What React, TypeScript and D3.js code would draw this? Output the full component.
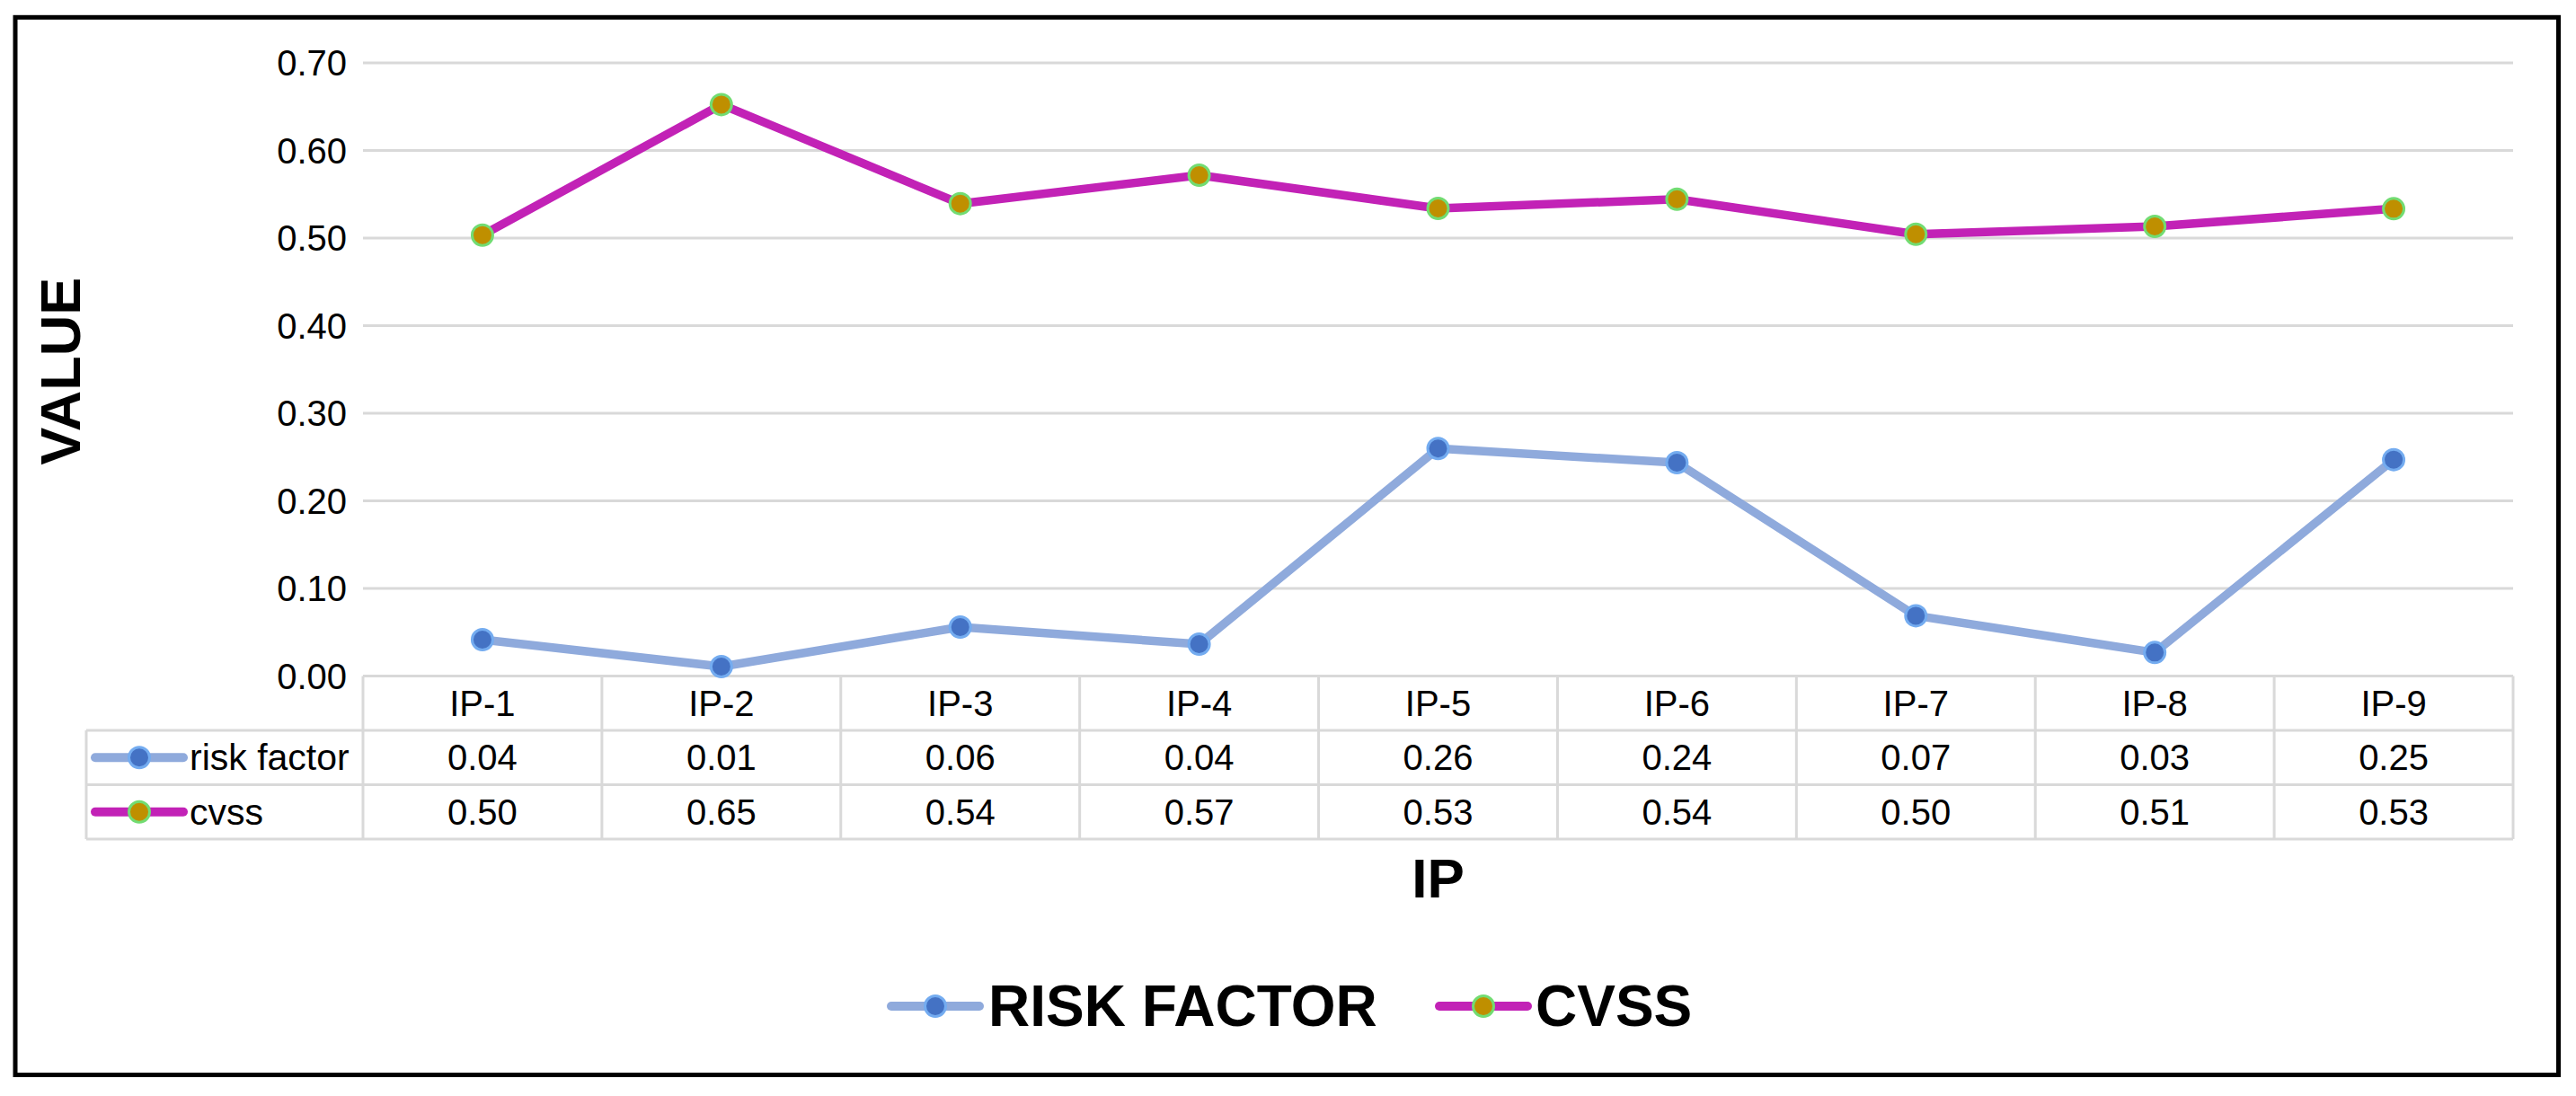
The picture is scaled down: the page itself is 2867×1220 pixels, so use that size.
import React from 'react';
import { scaleBand, scaleLinear, line, format, range } from 'd3';

const categories = ['IP-1', 'IP-2', 'IP-3', 'IP-4', 'IP-5', 'IP-6', 'IP-7', 'IP-8', 'IP-9'];
const riskFactor = [0.0415, 0.0108, 0.0559, 0.0364, 0.2597, 0.2436, 0.0688, 0.0268, 0.247];
const cvss = [0.5034, 0.6524, 0.5393, 0.5718, 0.5338, 0.5444, 0.5044, 0.5133, 0.5335];
const yTicks = [0, 0.1, 0.2, 0.3, 0.4, 0.5, 0.6, 0.7];

const series = [
  { name: 'risk factor', legend: 'RISK FACTOR', values: riskFactor, line: '#8faadc', fill: '#4472c4', ring: '#74acf0' },
  { name: 'cvss', legend: 'CVSS', values: cvss, line: '#c222b6', fill: '#bf8f00', ring: '#72dc72' },
];

const W = 2867;
const H = 1220;
const plot = { left: 404, right: 2797, top: 70, bottom: 752.5 };
const rowH = 60.5;
const tableLeft = 96;
const grid = '#d9d9d9';
const font = '"Liberation Sans", Arial, sans-serif';

function Marker({ cx, cy, s }: { cx: number, cy: number, s: typeof series[0] }) {
  return <circle cx={cx} cy={cy} r={11.5} fill={s.fill} stroke={s.ring} strokeWidth={3} />;
}

function LegendKey({ x, y, s, w }: { x: number, y: number, s: typeof series[0], w: number }) {
  return (
    <g>
      <line x1={x} x2={x + w} y1={y} y2={y} stroke={s.line} strokeWidth={10} strokeLinecap="round" />
      <Marker cx={x + w / 2} cy={y} s={s} />
    </g>
  );
}

export default function App() {
  const x = scaleBand().domain(categories).range([plot.left, plot.right]);
  const y = scaleLinear().domain([0, 0.7]).range([plot.bottom, plot.top]);
  const fmt = format('.2f');
  const cx = (c: string) => x(c)! + x.bandwidth() / 2;
  const path = line<number>().x((_, i) => cx(categories[i])).y(d => y(d));

  const tableBottom = plot.bottom + rowH * 3;

  return (
    <svg width={W} height={H} style={{ position: 'absolute', left: 0, top: 0, background: '#fff' }} fontFamily={font}>
      <rect x={0} y={0} width={W} height={H} fill="#fff" />
      <rect x={17} y={19.3} width={2830.5} height={1177.2} fill="none" stroke="#000" strokeWidth={5} />

      {/* gridlines + tick labels */}
      {yTicks.map(t => (
        <g key={t}>
          <line x1={plot.left} x2={plot.right} y1={y(t)} y2={y(t)} stroke={grid} strokeWidth={3} />
          <text x={386} y={y(t) + 14} textAnchor="end" fontSize={40} fill="#000">{fmt(t)}</text>
        </g>
      ))}

      {/* data table */}
      <g stroke={grid} strokeWidth={3}>
        {range(1, 4).map(r => (
          <line key={r} x1={tableLeft} x2={plot.right} y1={plot.bottom + rowH * r} y2={plot.bottom + rowH * r} />
        ))}
        <line x1={tableLeft} x2={tableLeft} y1={plot.bottom + rowH} y2={tableBottom} />
        {range(0, categories.length + 1).map(i => {
          const xx = plot.left + x.bandwidth() * i;
          return <line key={i} x1={xx} x2={xx} y1={plot.bottom} y2={tableBottom} />;
        })}
      </g>
      {categories.map(c => (
        <text key={c} x={cx(c)} y={plot.bottom + rowH * 0.5 + 14} textAnchor="middle" fontSize={40}>{c}</text>
      ))}
      {series.map((s, si) => {
        const rc = plot.bottom + rowH * (si + 1.5);
        return (
          <g key={s.name}>
            <LegendKey x={106} y={rc} s={s} w={98} />
            <text x={211} y={rc + 14} fontSize={41}>{s.name}</text>
            {s.values.map((v, i) => (
              <text key={i} x={cx(categories[i])} y={rc + 14} textAnchor="middle" fontSize={40}>{fmt(v)}</text>
            ))}
          </g>
        );
      })}

      {/* series */}
      {series.map(s => (
        <g key={s.name}>
          <path d={path(s.values)!} fill="none" stroke={s.line} strokeWidth={9.5} strokeLinejoin="round" strokeLinecap="round" />
          {s.values.map((v, i) => <Marker key={i} cx={cx(categories[i])} cy={y(v)} s={s} />)}
        </g>
      ))}

      {/* axis titles */}
      <text transform={`translate(89, ${(plot.top + plot.bottom) / 2 + 2}) rotate(-90)`} textAnchor="middle" fontSize={63} fontWeight="bold">VALUE</text>
      <text x={(plot.left + plot.right) / 2} y={999} textAnchor="middle" fontSize={62} fontWeight="bold">IP</text>

      {/* legend */}
      <g>
        <LegendKey x={992} y={1120} s={series[0]} w={98} />
        <text x={1100} y={1142} fontSize={64} fontWeight="bold">{series[0].legend}</text>
        <LegendKey x={1602} y={1120} s={series[1]} w={98} />
        <text x={1709} y={1142} fontSize={64} fontWeight="bold">{series[1].legend}</text>
      </g>
    </svg>
  );
}
